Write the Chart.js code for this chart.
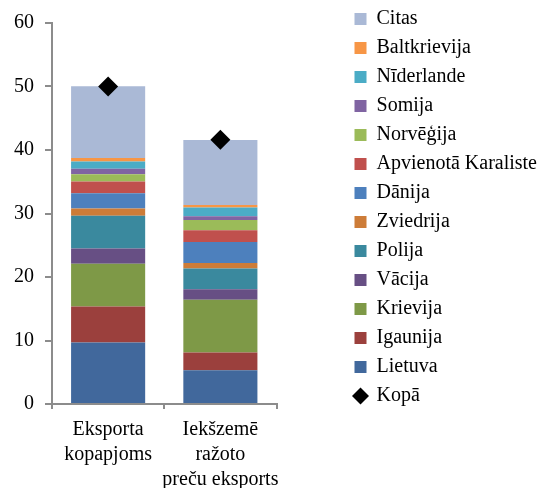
<!DOCTYPE html>
<html>
<head>
<meta charset="utf-8">
<script src="https://cdn.jsdelivr.net/npm/chart.js@4/dist/chart.umd.min.js"></script>
<style>
  body { margin: 0; background: #fff; }
</style>
</head>
<body>
<canvas id="myChart" width="547" height="488"></canvas>
<script>
const categories = [['Eksporta', 'kopapjoms'], ['Iekšzemē', 'ražoto', 'preču eksports']];
const countries = ['Lietuva', 'Igaunija', 'Krievija', 'Vācija', 'Polija', 'Zviedrija', 'Dānija',
  'Apvienotā Karaliste', 'Norvēģija', 'Somija', 'Nīderlande', 'Baltkrievija', 'Citas'];
// [Eksporta kopapjoms, Iekšzemē ražoto preču eksports]
const lietuva = [9.7, 5.3];
const igaunija = [5.65, 2.8];
const krievija = [6.75, 8.3];
const vacija = [2.4, 1.67];
const polija = [5.15, 3.26];
const zviedrija = [1.15, 0.88];
const danija = [2.4, 3.3];
const apvKaraliste = [1.85, 1.87];
const norvegija = [1.15, 1.6];
const somija = [0.85, 0.57];
const niderlande = [1.15, 1.4];
const baltkrievija = [0.55, 0.37];
const citas = [11.3, 10.25];
const kopa = [50, 41.6];
const yTicks = [0, 10, 20, 30, 40, 50, 60];

const seriesValues = [lietuva, igaunija, krievija, vacija, polija, zviedrija, danija,
  apvKaraliste, norvegija, somija, niderlande, baltkrievija, citas];
const colors = ['#41689C', '#9B403D', '#7E9947', '#674F84', '#3A899E', '#CD7C38', '#4D80BD',
  '#C0504D', '#9BBB59', '#8064A2', '#4BACC6', '#F79646', '#AAB9D6'];

const font = { family: 'Liberation Serif', size: 20 };
const axisGray = '#8C8C8C';

let datasets = [];
for (let i = 0; i < countries.length; i++) {
  datasets.push({
    type: 'bar',
    label: countries[i],
    data: seriesValues[i],
    backgroundColor: colors[i],
    borderWidth: 0,
    order: 1
  });
}
datasets.push({
  type: 'line',
  label: 'Kopā',
  data: kopa,
  showLine: false,
  stack: 'kopa',
  pointStyle: 'rectRot',
  pointRadius: 10,
  pointHoverRadius: 10,
  backgroundColor: '#000',
  borderColor: '#000',
  borderWidth: 0,
  order: 0
});

const legendOrder = countries.slice().reverse().concat(['Kopā']);

new Chart(document.getElementById('myChart'), {
  type: 'bar',
  data: { labels: categories, datasets: datasets },
  options: {
    responsive: false,
    animation: false,
    layout: { padding: 0 },
    scales: {
      x: {
        stacked: true,
        grid: { drawOnChartArea: false, drawTicks: true, tickLength: 5, color: axisGray, lineWidth: 2 },
        border: { color: axisGray, width: 2 },
        ticks: { color: '#000', font: { family: 'Liberation Serif', size: 20, lineHeight: 1.25 }, padding: 8, maxRotation: 0, autoSkip: false },
        afterFit: s => { s.height = 84; }
      },
      x2: {
        position: 'top',
        grid: { display: false },
        border: { display: false },
        ticks: { display: false },
        afterFit: s => { s.height = 17; }
      },
      y: {
        stacked: true,
        min: 0,
        max: 60,
        afterBuildTicks: s => { s.ticks = yTicks.map(v => ({ value: v })); },
        grid: { drawOnChartArea: false, drawTicks: true, tickLength: 7, color: axisGray, lineWidth: 2 },
        border: { color: axisGray, width: 2 },
        ticks: { color: '#000', font: font, padding: 11 },
        afterFit: s => { s.width = 52; }
      },
      y2: {
        position: 'right',
        grid: { display: false },
        border: { display: false },
        ticks: { display: false },
        afterFit: s => { s.width = 69; }
      }
    },
    datasets: {
      bar: { barPercentage: 0.66, categoryPercentage: 1 }
    },
    plugins: {
      tooltip: { enabled: false },
      legend: {
        position: 'right',
        align: 'start',
        maxWidth: 220,
        labels: {
          color: '#000',
          font: font,
          usePointStyle: true,
          boxWidth: 12,
          boxHeight: 12,
          padding: 9,
          generateLabels: chart => {
            let items = Chart.defaults.plugins.legend.labels.generateLabels(chart);
            items.forEach(it => {
              it.pointStyle = it.text === 'Kopā' ? 'rectRot' : 'rect';
              it.lineWidth = 0;
            });
            items.sort((a, b) => legendOrder.indexOf(a.text) - legendOrder.indexOf(b.text));
            return items;
          }
        }
      }
    }
  }
});
</script>
</body>
</html>
